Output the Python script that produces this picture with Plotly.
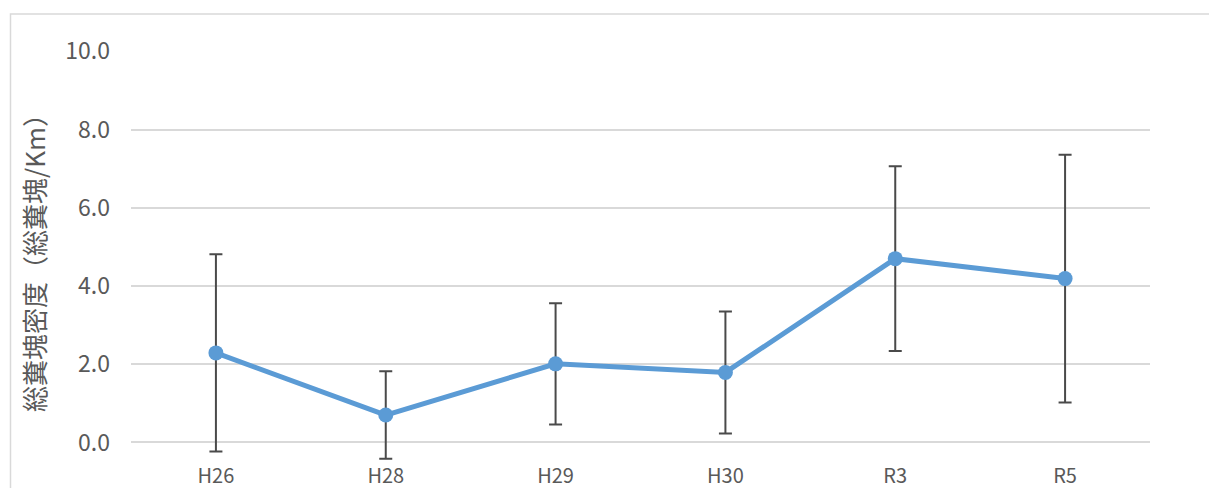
import plotly.graph_objects as go

# 調査年度ごとの総糞塊密度（平均）と標準偏差
years = ["H26", "H28", "H29", "H30", "R3", "R5"]
density_mean = [2.29, 0.70, 2.01, 1.79, 4.70, 4.19]
density_sd = [2.52, 1.12, 1.55, 1.56, 2.36, 3.17]
y_ticks = [0, 2, 4, 6, 8, 10]
y_tick_labels = ["0.0", "2.0", "4.0", "6.0", "8.0", "10.0"]

W, H = 1209, 488
# y軸は 0～10 を 51px～442px に配置し、下側は誤差棒が見えるよう少し余白を持たせる
Y_MIN, Y_MAX = -0.5, 10.01
PX_PER_UNIT = (442 - 51) / 10
M_L, M_R = 131, 59
M_T = 51 - (Y_MAX - 10) * PX_PER_UNIT
M_B = H - (442 - Y_MIN * PX_PER_UNIT)
FONT = "Noto Sans CJK JP, Noto Sans, sans-serif"
GRAY = "#595959"
BLUE = "#5B9BD5"

fig = go.Figure()
fig.add_trace(go.Scatter(
    x=years,
    y=density_mean,
    mode="lines+markers",
    line=dict(color=BLUE, width=5),
    marker=dict(color=BLUE, size=15),
    error_y=dict(type="data", array=density_sd, visible=True,
                 color="#4a4a4a", thickness=2, width=6.5),
    cliponaxis=False,
    showlegend=False,
))

# 外枠（チャート領域）
pw = W - M_L - M_R
ph = H - M_T - M_B
fig.add_shape(
    type="rect", xref="paper", yref="paper", layer="below",
    x0=(10.5 - M_L) / pw, x1=(W + 10 - M_L) / pw,
    y0=-(M_B + 10) / ph, y1=(H - M_B - 13.5) / ph,
    line=dict(color="#d9d9d9", width=1.5), fillcolor="rgba(0,0,0,0)",
)

fig.update_layout(
    width=W, height=H,
    margin=dict(l=M_L, r=M_R, t=M_T, b=M_B, pad=0, autoexpand=False),
    paper_bgcolor="white", plot_bgcolor="white",
    font=dict(family=FONT, color=GRAY, size=20),
)
fig.update_xaxes(
    type="category", range=[-0.5, len(years) - 0.5], automargin=False,
    showgrid=False, zeroline=False, showline=False,
    ticks="", ticklabelstandoff=0,
    tickfont=dict(size=20, color=GRAY, family=FONT),
)
fig.update_yaxes(
    range=[Y_MIN, Y_MAX], tickvals=y_ticks, ticktext=y_tick_labels,
    automargin=False,
    showgrid=True, gridcolor="#d9d9d9", gridwidth=1.5,
    zeroline=False, showline=False, ticks="",
    ticklabelstandoff=20,
    tickfont=dict(size=23, color=GRAY, family=FONT),
    title=dict(text="総糞塊密度（総糞塊/Km）", standoff=12,
               font=dict(size=26, color=GRAY, family=FONT)),
)

fig.write_html("out.html")
